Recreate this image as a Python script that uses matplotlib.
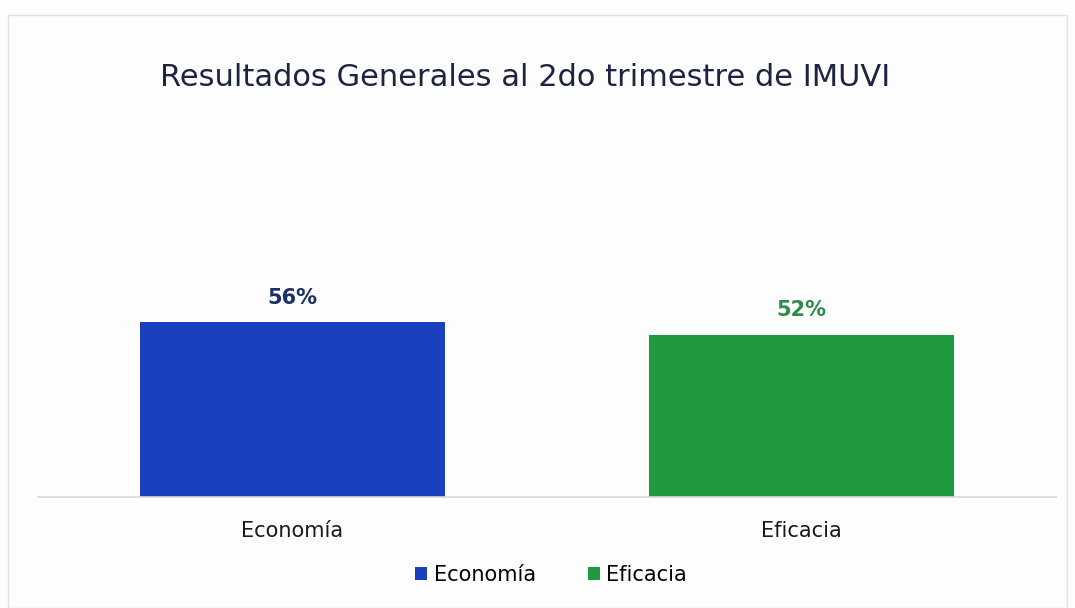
import matplotlib
matplotlib.use("Agg")
import matplotlib.pyplot as plt
from matplotlib.patches import Rectangle, Patch

categories = ["Economía", "Eficacia"]
values = [56, 52]
value_labels = ["56%", "52%"]
title = "Resultados Generales al 2do trimestre de IMUVI"

bar_colors = ["#1a3fbf", "#1f9a3e"]
label_colors = ["#1c2f66", "#2e8b4c"]
font = "DejaVu Sans"

fig = plt.figure(figsize=(10.75, 6.08), dpi=100)
fig.patch.set_facecolor("#fdfdfd")
fig.patches.append(Rectangle((8/1075, 0.0), 1 - 16/1075, 1 - 15/608, transform=fig.transFigure,
                             fill=False, edgecolor="#e2e2e2", linewidth=1))

ax = fig.add_axes([38/1075, 111/608, 1018/1075, 312.5/608])
ax.set_facecolor("none")
x = list(range(len(categories)))
bars = ax.bar(x, values, width=0.6, color=bar_colors)
ax.set_xlim(-0.5, 1.5)
ax.set_ylim(0, 100)
for xi, v, lab, c in zip(x, values, value_labels, label_colors):
    ax.text(xi, v + 4.5, lab, ha="center", va="bottom", fontsize=15, fontweight="bold",
            color=c, family=font)
ax.set_xticks(x)
ax.set_xticklabels(categories, fontsize=15, family=font, color="#1a1a1a")
ax.tick_params(axis="x", length=0, pad=17)
ax.set_yticks([])
for s in ["top", "right", "left"]:
    ax.spines[s].set_visible(False)
ax.spines["bottom"].set_color("#d9d9d9")
ax.spines["bottom"].set_linewidth(1.2)

fig.text(160/1075, 1 - 78/608, title, ha="left", va="center", fontsize=22,
         color="#1c2440", family=font)

handles = [Patch(facecolor=c, label=l) for c, l in zip(bar_colors, categories)]
fig.legend(handles=handles, loc="center", bbox_to_anchor=(551/1075, 1 - 575/608), ncol=2,
           frameon=False, prop={"family": font, "size": 15}, handlelength=0.6,
           handleheight=0.6, handletextpad=0.3, columnspacing=2.5)

fig.savefig("out.png", dpi=100, facecolor=fig.get_facecolor())
